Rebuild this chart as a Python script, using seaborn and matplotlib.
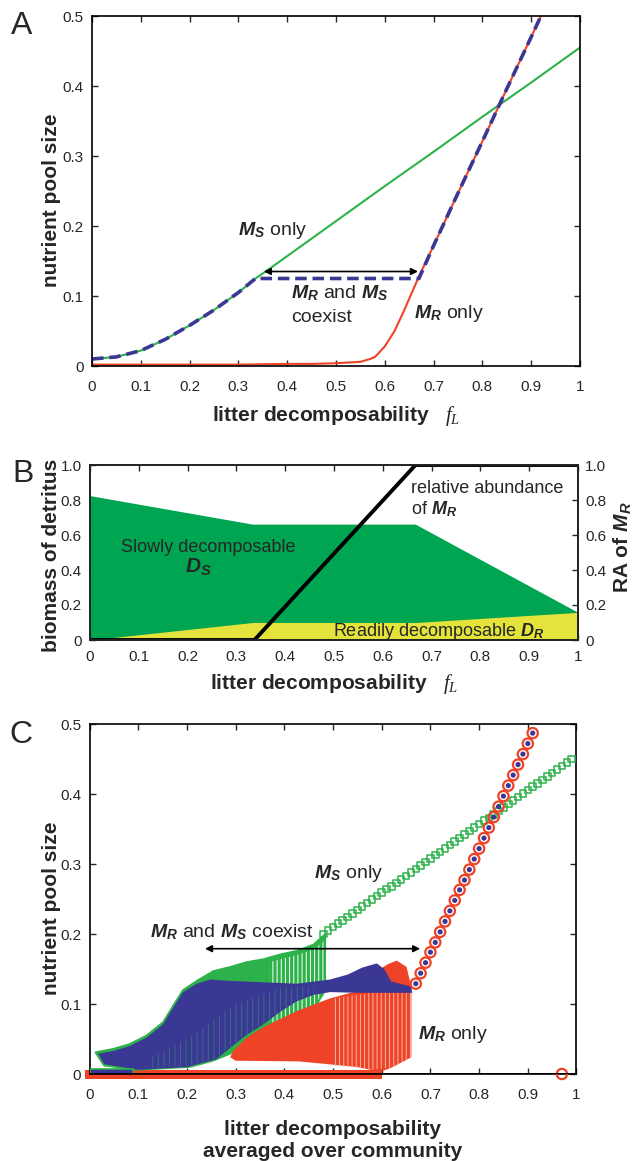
import matplotlib
matplotlib.use('Agg')
import matplotlib.pyplot as plt
import seaborn as sns

# ---- panel A: nutrient pool vs litter decomposability ----
fl_ms = [0, 0.05, 0.1, 0.15, 0.2, 0.25, 0.3, 0.335, 0.36, 0.4, 0.5, 0.6, 0.7, 0.8, 0.9, 1.0]
pool_ms = [0.010, 0.013, 0.022, 0.038, 0.058, 0.080, 0.105, 0.125, 0.137, 0.157, 0.207,
           0.257, 0.306, 0.356, 0.405, 0.455]
fl_mr = [0, 0.1, 0.2, 0.3, 0.4, 0.45, 0.5, 0.55, 0.57, 0.58, 0.6, 0.62, 0.64, 0.66, 0.67,
         0.7, 0.75, 0.8, 0.85, 0.9, 0.92]
pool_mr = [0.002, 0.002, 0.002, 0.002, 0.003, 0.003, 0.004, 0.006, 0.010, 0.013, 0.028,
           0.050, 0.080, 0.112, 0.128, 0.172, 0.247, 0.321, 0.396, 0.470, 0.500]
fl_co = [0, 0.05, 0.1, 0.15, 0.2, 0.25, 0.3, 0.335, 0.67, 0.7, 0.75, 0.8, 0.85, 0.9, 0.92]
pool_co = [0.010, 0.013, 0.022, 0.038, 0.058, 0.080, 0.105, 0.125, 0.125, 0.172, 0.247,
           0.321, 0.396, 0.470, 0.500]

# ---- panel B: detritus biomass and relative abundance of M_R ----
fl_b = [0, 1 / 3, 2 / 3, 1]
ds_top = [0.825, 0.662, 0.662, 0.158]
dr_top = [0.0, 0.100, 0.100, 0.158]
ra_x = [0, 0.337, 0.667, 1.0]
ra_mr = [0, 0, 1, 1]

# ---- panel C: community simulations ----
ms_sq_x = [0.48, 0.49, 0.50, 0.51, 0.52, 0.53, 0.54, 0.55, 0.56, 0.57, 0.58, 0.59, 0.60,
           0.61, 0.62, 0.63, 0.64, 0.65, 0.66, 0.67, 0.68, 0.69, 0.70, 0.71, 0.72, 0.73,
           0.74, 0.75, 0.76, 0.77, 0.78, 0.79, 0.80, 0.81, 0.82, 0.83, 0.84, 0.85, 0.86,
           0.87, 0.88, 0.89, 0.90, 0.91, 0.92, 0.93, 0.94, 0.95, 0.96, 0.97, 0.98, 0.99]
ms_sq_y = [0.200, 0.205, 0.210, 0.215, 0.219, 0.224, 0.229, 0.234, 0.239, 0.244, 0.249,
           0.254, 0.259, 0.264, 0.268, 0.273, 0.278, 0.283, 0.288, 0.293, 0.298, 0.303,
           0.308, 0.313, 0.317, 0.322, 0.327, 0.332, 0.337, 0.342, 0.347, 0.352, 0.357,
           0.362, 0.366, 0.371, 0.376, 0.381, 0.386, 0.391, 0.396, 0.401, 0.406, 0.411,
           0.415, 0.420, 0.425, 0.430, 0.435, 0.440, 0.445, 0.450]
mr_ci_x = [0.67, 0.68, 0.69, 0.70, 0.71, 0.72, 0.73, 0.74, 0.75, 0.76, 0.77, 0.78, 0.79,
           0.80, 0.81, 0.82, 0.83, 0.84, 0.85, 0.86, 0.87, 0.88, 0.89, 0.90, 0.91, 0.97]
mr_ci_y = [0.129, 0.144, 0.159, 0.174, 0.188, 0.203, 0.218, 0.233, 0.248, 0.263, 0.277,
           0.292, 0.307, 0.322, 0.337, 0.352, 0.367, 0.382, 0.397, 0.412, 0.427, 0.442,
           0.457, 0.472, 0.487, 0.0]
mr_dot_x = mr_ci_x[:-1]
mr_dot_y = mr_ci_y[:-1]

# outlines of the dense clouds of community states
green_cloud_x = [0.012, 0.049, 0.083, 0.117, 0.151, 0.172, 0.192, 0.22, 0.254, 0.289,
                 0.323, 0.357, 0.392, 0.426, 0.46, 0.484, 0.484, 0.46, 0.432, 0.392,
                 0.357, 0.323, 0.289, 0.254, 0.206, 0.1, 0.03]
green_cloud_y = [0.031, 0.036, 0.043, 0.055, 0.074, 0.098, 0.120, 0.133, 0.147, 0.153,
                 0.160, 0.164, 0.171, 0.176, 0.185, 0.200, 0.119, 0.092, 0.086, 0.076,
                 0.062, 0.048, 0.029, 0.019, 0.010, 0.006, 0.012]
green_light_x = [0.37, 0.426, 0.46, 0.482, 0.482, 0.46, 0.432, 0.392, 0.37]
green_light_y = [0.160, 0.170, 0.178, 0.190, 0.121, 0.094, 0.088, 0.078, 0.072]
blue_cloud_x = [0.018, 0.049, 0.083, 0.117, 0.151, 0.172, 0.192, 0.22, 0.248, 0.289,
                0.357, 0.426, 0.494, 0.53, 0.56, 0.59, 0.605, 0.62, 0.66, 0.663, 0.55,
                0.494, 0.46, 0.426, 0.392, 0.357, 0.323, 0.29, 0.26, 0.2, 0.1, 0.03]
blue_cloud_y = [0.029, 0.033, 0.040, 0.052, 0.071, 0.095, 0.117, 0.129, 0.135, 0.133,
                0.131, 0.129, 0.135, 0.142, 0.152, 0.158, 0.150, 0.132, 0.125, 0.116,
                0.116, 0.117, 0.113, 0.104, 0.089, 0.071, 0.056, 0.038, 0.021, 0.010,
                0.006, 0.014]
blue_streak_x = [0.12, 0.2, 0.26, 0.29, 0.357, 0.426, 0.46, 0.46, 0.40, 0.30, 0.2, 0.12]
blue_streak_y = [0.008, 0.012, 0.022, 0.040, 0.073, 0.106, 0.115, 0.124, 0.125, 0.100,
                 0.050, 0.022]
red_cloud_x = [0.289, 0.295, 0.323, 0.357, 0.426, 0.494, 0.547, 0.592, 0.613, 0.631,
               0.651, 0.661, 0.661, 0.62, 0.597, 0.55, 0.43, 0.30]
red_cloud_y = [0.024, 0.033, 0.052, 0.067, 0.090, 0.108, 0.118, 0.148, 0.157, 0.162,
               0.153, 0.124, 0.024, 0.009, 0.003, 0.010, 0.018, 0.019]
red_light_x = [0.50, 0.58, 0.661, 0.661, 0.62, 0.58, 0.50]
red_light_y = [0.108, 0.116, 0.116, 0.024, 0.009, 0.006, 0.012]
red_band_x = [-0.01, 0.60, 0.60, -0.01]
red_band_y = [-0.007, -0.007, 0.006, 0.006]
low_strip_x = [0.0, 0.09, 0.09, 0.0]
low_strip_y = [0.0, 0.0, 0.007, 0.007]

GREEN = '#2db24a'
RED = '#ee4327'
BLUE = '#3b3795'
DGREEN = '#00a551'
YELLOW = '#e3e33b'

sns.set_style('ticks')
plt.rcParams['font.family'] = ['Liberation Sans', 'DejaVu Sans']
plt.rcParams['mathtext.fontset'] = 'custom'
plt.rcParams['mathtext.rm'] = 'Liberation Sans'
plt.rcParams['mathtext.it'] = 'Liberation Serif:italic'
plt.rcParams['mathtext.bf'] = 'Liberation Sans:bold'
plt.rcParams['mathtext.bfit'] = 'Liberation Sans:italic:bold'
plt.rcParams['axes.linewidth'] = 1.2
plt.rcParams['hatch.linewidth'] = 0.7

MS = r'$\boldsymbol{M}_\boldsymbol{S}$'
MR = r'$\boldsymbol{M}_\boldsymbol{R}$'
FL = r'$f_L$'
XT = [0, 0.1, 0.2, 0.3, 0.4, 0.5, 0.6, 0.7, 0.8, 0.9, 1]
XT_LAB = ['0', '0.1', '0.2', '0.3', '0.4', '0.5', '0.6', '0.7', '0.8', '0.9', '1']


def style_axes(ax, xpad=10, right=True):
    ax.tick_params(direction='in', top=True, right=right, length=4, width=1,
                   labelsize=11)
    ax.tick_params(axis='x', pad=xpad)
    ax.tick_params(axis='y', pad=6)
    for sp in ax.spines.values():
        sp.set_visible(True)
        sp.set_linewidth(1.2)
        sp.set_color('black')


fig = plt.figure(figsize=(6.35, 11.61), dpi=100)
axA = fig.add_axes([92 / 635, 1 - 366 / 1161, 488 / 635, 350 / 1161])
axB = fig.add_axes([90 / 635, 1 - 640 / 1161, 488 / 635, 175 / 1161])
axC = fig.add_axes([89.5 / 635, 1 - 1074 / 1161, 487 / 635, 350 / 1161])

# ---------------- A ----------------
sns.lineplot(x=fl_ms, y=pool_ms, ax=axA, color=GREEN, lw=1.5, sort=False, estimator=None)
sns.lineplot(x=fl_mr, y=pool_mr, ax=axA, color=RED, lw=1.5, sort=False, estimator=None)
sns.lineplot(x=fl_co, y=pool_co, ax=axA, color=BLUE, lw=2.6, sort=False, estimator=None,
             linestyle=(0, (3.2, 1.6)))
axA.annotate('', xy=(0.352, 0.135), xytext=(0.668, 0.135),
             arrowprops=dict(arrowstyle='<|-|>', color='black', lw=1.2,
                             mutation_scale=10, shrinkA=0, shrinkB=0))
axA.text(0.30, 0.187, MS + ' only', fontsize=14)
axA.text(0.408, 0.097, MR + ' and ' + MS, fontsize=14)
axA.text(0.408, 0.063, 'coexist', fontsize=14)
axA.text(0.66, 0.068, MR + ' only', fontsize=14)
axA.set_xlim(0, 1)
axA.set_ylim(0, 0.5)
axA.set_xticks(XT)
axA.set_xticklabels(XT_LAB)
axA.set_yticks([0, 0.1, 0.2, 0.3, 0.4, 0.5])
axA.set_yticklabels(['0', '0.1', '0.2', '0.3', '0.4', '0.5'])
axA.set_xlabel('litter decomposability   ' + FL, fontsize=15, fontweight='bold')
axA.set_ylabel('nutrient pool size', fontsize=15, fontweight='bold')
axA.xaxis.set_label_coords(0.5, -0.11)
axA.yaxis.set_label_coords(-0.064, 0.474)
style_axes(axA)

# ---------------- B ----------------
axB.fill_between(fl_b, 0, ds_top, color=DGREEN, lw=0)
axB.fill_between(fl_b, 0, dr_top, color=YELLOW, lw=0)
axB.text(0.063, 0.505, 'Slowly decomposable', fontsize=13)
axB.text(0.194, 0.39, r'$\boldsymbol{D}_\boldsymbol{S}$', fontsize=15)
axB.text(0.497, 0.023, 'Readily decomposable ' + r'$\boldsymbol{D}_\boldsymbol{R}$', fontsize=13)
axB.set_xlim(0, 1)
axB.set_ylim(0, 1)
axB.set_xticks(XT)
axB.set_xticklabels(XT_LAB)
axB.set_yticks([0, 0.2, 0.4, 0.6, 0.8, 1.0])
axB.set_yticklabels(['0', '0.2', '0.4', '0.6', '0.8', '1.0'])
axB.set_xlabel('litter decomposability   ' + FL, fontsize=15, fontweight='bold')
axB.set_ylabel('biomass of detritus', fontsize=15, fontweight='bold')
axB.xaxis.set_label_coords(0.5, -0.18)
axB.yaxis.set_label_coords(-0.06, 0.483)
style_axes(axB, xpad=7, right=False)

axB2 = axB.twinx()
sns.lineplot(x=ra_x, y=ra_mr, ax=axB2, color='black', lw=2.8, sort=False, estimator=None)
axB2.set_ylim(0, 1)
axB2.set_yticks([0, 0.2, 0.4, 0.6, 0.8, 1.0])
axB2.set_yticklabels(['0', '0.2', '0.4', '0.6', '0.8', '1.0'])
axB2.tick_params(direction='in', length=4, width=1, labelsize=11, pad=5)
axB2.set_ylabel('RA of ' + MR, fontsize=15, fontweight='bold', rotation=90)
axB2.yaxis.set_label_coords(1.068, 0.53)
for sp in axB2.spines.values():
    sp.set_visible(True)
    sp.set_linewidth(1.2)
axB2.text(0.657, 0.838, 'relative abundance', fontsize=13)
axB2.text(0.657, 0.72, 'of ' + MR, fontsize=13)

# ---------------- C ----------------
axC.fill(red_band_x, red_band_y, color=RED, lw=0, zorder=2, clip_on=False)
axC.fill(green_cloud_x, green_cloud_y, facecolor=GREEN, edgecolor=GREEN, lw=1.2, zorder=2)
axC.fill(green_light_x, green_light_y, facecolor='none', edgecolor='white', lw=0,
         hatch='||||', zorder=2.5)
axC.fill(red_cloud_x, red_cloud_y, color=RED, lw=0, zorder=3)
axC.fill(red_light_x, red_light_y, facecolor='none', edgecolor='#f7b7a8', lw=0,
         hatch='||||', zorder=3.5)
axC.fill(blue_cloud_x, blue_cloud_y, color=BLUE, lw=0, zorder=4)
axC.fill(blue_streak_x, blue_streak_y, facecolor='none', edgecolor=(0.2, 0.62, 0.42, 0.55),
         lw=0, hatch='|||', zorder=4.5)
axC.fill(low_strip_x, low_strip_y, facecolor=BLUE, edgecolor=GREEN, lw=1.2, zorder=4.6)
sns.scatterplot(x=ms_sq_x, y=ms_sq_y, ax=axC, marker='s', s=22, color=GREEN,
                facecolor='none', edgecolor=GREEN, linewidth=1.1, zorder=5)
sns.scatterplot(x=mr_ci_x, y=mr_ci_y, ax=axC, marker='o', s=55, color=RED,
                facecolor='none', edgecolor=RED, linewidth=1.6, zorder=5, clip_on=False)
sns.scatterplot(x=mr_dot_x, y=mr_dot_y, ax=axC, marker='o', s=14, color=BLUE,
                edgecolor='none', zorder=6)
axC.annotate('', xy=(0.237, 0.179), xytext=(0.679, 0.179),
             arrowprops=dict(arrowstyle='<|-|>', color='black', lw=1.2,
                             mutation_scale=10, shrinkA=0, shrinkB=0), zorder=7)
axC.text(0.124, 0.195, MR + ' and ' + MS + ' coexist', fontsize=14, zorder=8)
axC.text(0.462, 0.28, MS + ' only', fontsize=14)
axC.text(0.675, 0.05, MR + ' only', fontsize=14)
axC.axhline(0, color='black', lw=1.4, zorder=7)
axC.set_xlim(0, 1)
axC.set_ylim(0, 0.5)
axC.set_xticks(XT)
axC.set_xticklabels(XT_LAB)
axC.set_yticks([0, 0.1, 0.2, 0.3, 0.4, 0.5])
axC.set_yticklabels(['0', '0.1', '0.2', '0.3', '0.4', '0.5'])
axC.set_xlabel('litter decomposability\naveraged over community', fontsize=15,
               fontweight='bold', linespacing=1.2)
axC.set_ylabel('nutrient pool size', fontsize=15, fontweight='bold')
axC.xaxis.set_label_coords(0.5, -0.132)
axC.xaxis.label.set_va('top')
axC.yaxis.set_label_coords(-0.059, 0.473)
style_axes(axC)

fig.text(22 / 635, 1 - 26 / 1161, 'A', fontsize=23, va='center', ha='center')
fig.text(23 / 635, 1 - 474 / 1161, 'B', fontsize=23, va='center', ha='center')
fig.text(21 / 635, 1 - 735 / 1161, 'C', fontsize=23, va='center', ha='center')

fig.savefig('out.png', dpi=100)
